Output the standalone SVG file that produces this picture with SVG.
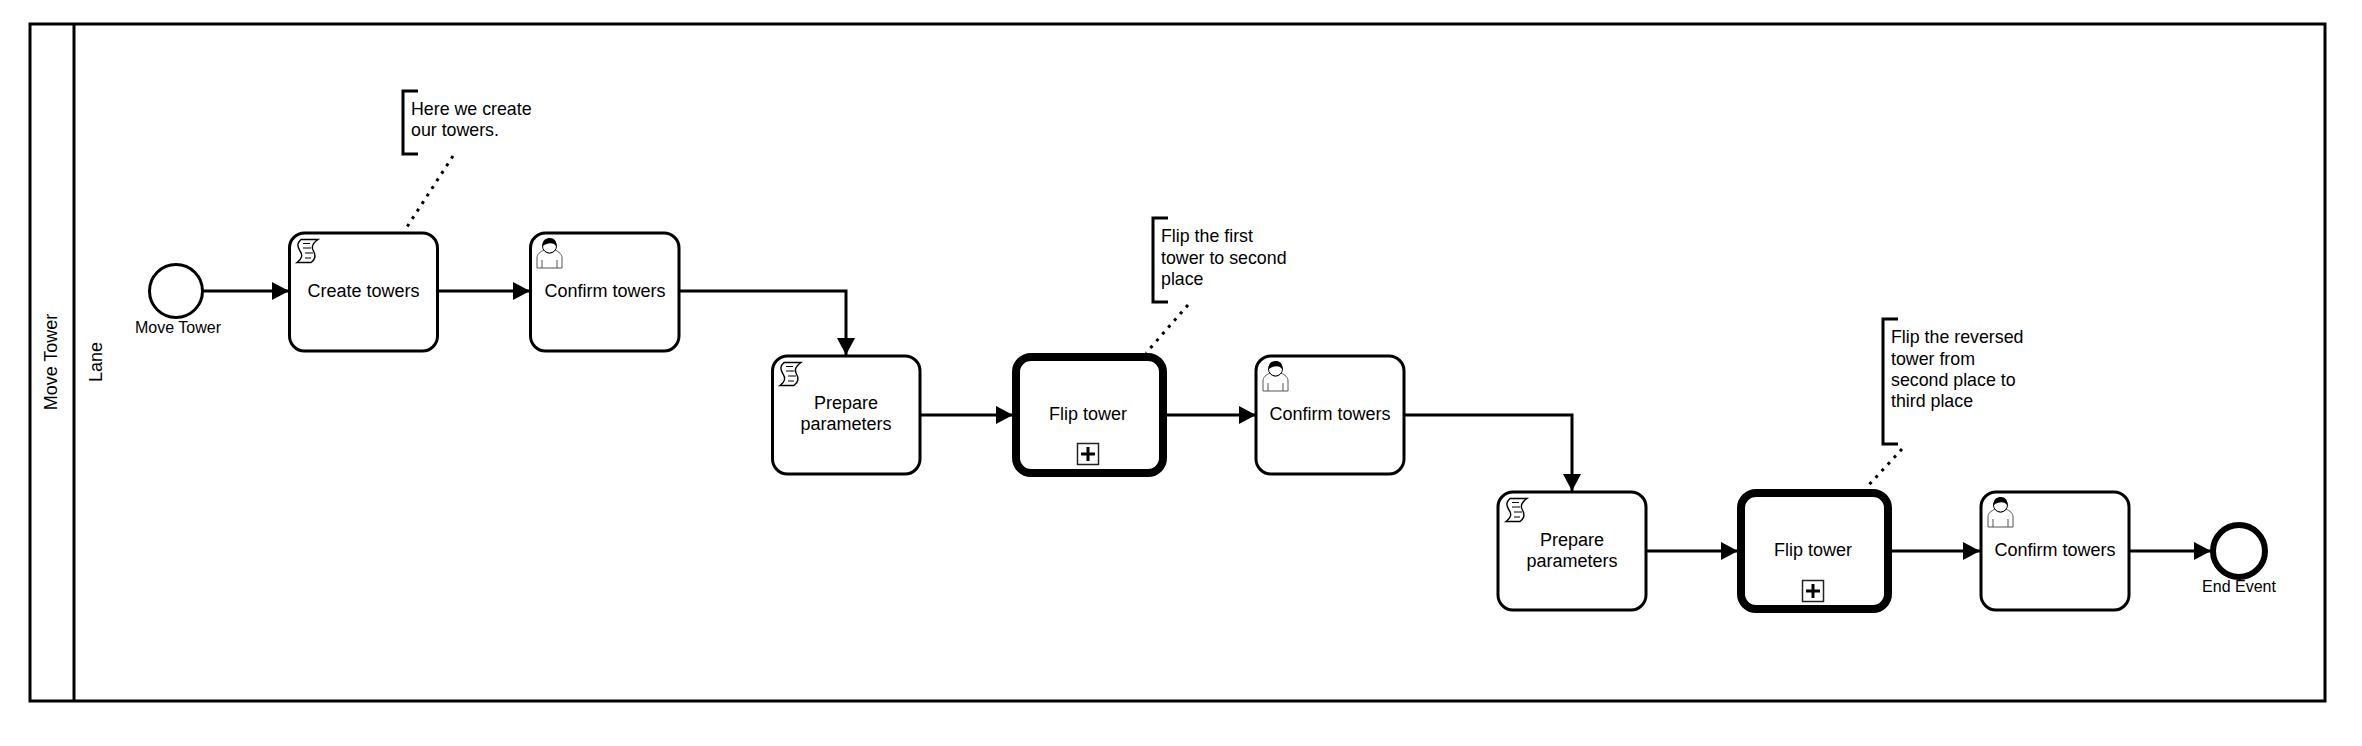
<svg xmlns="http://www.w3.org/2000/svg" width="2362" height="746" viewBox="0 0 2362 746">
<style>
text{font-family:"Liberation Sans",Arial,sans-serif;font-size:18px;fill:#000}
.c{text-anchor:middle}
.s{font-size:16px}
.n{font-size:17.8px}
.task{fill:#fff;stroke:#000;stroke-width:3}
.sub{fill:#fff;stroke:#000;stroke-width:8}
.flow{fill:none;stroke:#000;stroke-width:3;marker-end:url(#arrow)}
.assoc{fill:none;stroke:#000;stroke-width:3;stroke-dasharray:3 6}
.br{fill:none;stroke:#000;stroke-width:3}
</style>
<defs>
<marker id="arrow" markerUnits="userSpaceOnUse" viewBox="0 0 17 18" refX="17" refY="9" markerWidth="17" markerHeight="18" orient="auto"><path d="M0 0L17 9L0 18Z" fill="#000"/></marker>
<g id="script"><path d="M4 0.5H21C16 4 14 7 16 11C19 16 19 20 14 23.5H0C5 20 6 16 3 12C0 7 0 4 4 0.5Z" fill="#fff" stroke="#000" stroke-width="1.4"/><path d="M6 4.5H13M6 9H14M8 14H16M8 19H14" fill="none" stroke="#000" stroke-width="1.2"/></g>
<g id="user"><path d="M1 30V20C1 16 4 14 8 12C10 16 17 16 19 12C23 14 26 16 26 20V30Z" fill="#fff" stroke="#555" stroke-width="1"/><path d="M6 30V22M21 30V22" stroke="#555" fill="none"/><circle cx="13.5" cy="8" r="7" fill="#fff" stroke="#000"/><path d="M7 8C6 2 10 0 14 0C18 0 21 3 20 8C17 4 11 5 7 8Z" fill="#000"/></g>
<g id="plus"><rect x="0.5" y="0.5" width="21" height="21" fill="#fff" stroke="#222" stroke-width="1.5"/><path d="M11 4V18M4 11H18" stroke="#000" stroke-width="3"/></g>
</defs>
<rect width="2362" height="746" fill="#fff"/>
<g id="pool"><rect x="30" y="24" width="2295" height="677" fill="#fff" stroke="#000" stroke-width="3"/><path d="M74 24V701" stroke="#000" stroke-width="3"/><text class="c" transform="translate(57 362) rotate(-90)">Move Tower</text><text class="c" transform="translate(102 362) rotate(-90)">Lane</text></g>
<g id="connectors">
<path class="flow" d="M203 291H289"/><path class="flow" d="M437 291H530"/><path class="flow" d="M679 291H846V355"/>
<path class="flow" d="M921 415H1013"/><path class="flow" d="M1165 415H1256"/><path class="flow" d="M1404 415H1572V491"/>
<path class="flow" d="M1646 551H1738"/><path class="flow" d="M1888 551H1980"/><path class="flow" d="M2129 551H2211"/>
<path class="assoc" d="M453 156L405 230"/><path class="assoc" d="M1188 305L1146 353"/><path class="assoc" d="M1902 449L1867 487"/>
</g>
<g id="start"><circle cx="176" cy="291" r="26.5" fill="#fff" stroke="#000" stroke-width="3"/><text class="c s" x="178" y="333">Move Tower</text></g>
<g id="t1"><rect class="task" x="289.5" y="233" width="148" height="118" rx="15"/><use href="#script" x="297" y="239"/><text class="c" x="363.5" y="297">Create towers</text></g>
<g id="t2"><rect class="task" x="530.5" y="233" width="148.5" height="118" rx="15"/><use href="#user" x="536" y="238"/><text class="c" x="605" y="297">Confirm towers</text></g>
<g id="t3"><rect class="task" x="772.5" y="356" width="147.5" height="118" rx="15"/><use href="#script" x="780" y="362"/><text class="c" x="846" y="409">Prepare</text><text class="c" x="846" y="430">parameters</text></g>
<g id="t4"><rect class="sub" x="1016" y="357" width="147" height="116" rx="15"/><use href="#plus" x="1077" y="443"/><text class="c" x="1088" y="420">Flip tower</text></g>
<g id="t5"><rect class="task" x="1256" y="356" width="148" height="118" rx="15"/><use href="#user" x="1262" y="361"/><text class="c" x="1330" y="420">Confirm towers</text></g>
<g id="t6"><rect class="task" x="1498" y="492" width="148" height="118" rx="15"/><use href="#script" x="1506" y="498"/><text class="c" x="1572" y="546">Prepare</text><text class="c" x="1572" y="567">parameters</text></g>
<g id="t7"><rect class="sub" x="1741" y="493" width="147" height="116" rx="15"/><use href="#plus" x="1802" y="580"/><text class="c" x="1813" y="556">Flip tower</text></g>
<g id="t8"><rect class="task" x="1981" y="492" width="148" height="118" rx="15"/><use href="#user" x="1987" y="497"/><text class="c" x="2055" y="556">Confirm towers</text></g>
<g id="end"><circle cx="2239" cy="551" r="26" fill="#fff" stroke="#000" stroke-width="6"/><text class="c s" x="2239" y="592">End Event</text></g>
<g id="a1"><path class="br" d="M418 91H403V154H418"/><text class="n" x="411" y="115">Here we create</text><text class="n" x="411" y="136">our towers.</text></g>
<g id="a2"><path class="br" d="M1168 218H1153V302H1168"/><text class="n" x="1161" y="242">Flip the first</text><text class="n" x="1161" y="264">tower to second</text><text class="n" x="1161" y="285">place</text></g>
<g id="a3"><path class="br" d="M1898 319H1883V444H1898"/><text class="n" x="1891" y="343">Flip the reversed</text><text class="n" x="1891" y="365">tower from</text><text class="n" x="1891" y="386">second place to</text><text class="n" x="1891" y="407">third place</text></g>
</svg>
